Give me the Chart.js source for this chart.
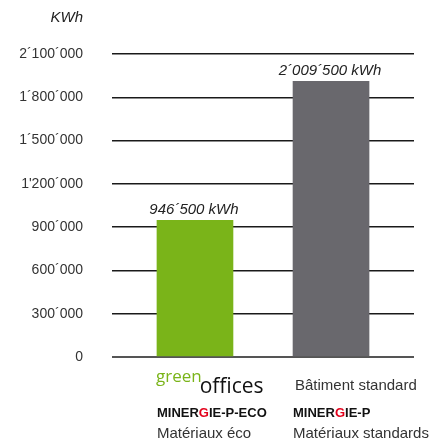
<!DOCTYPE html>
<html lang="fr">
<head>
    <meta charset="UTF-8">
    <title>Consommation KWh</title>
    <script src="https://cdn.jsdelivr.net/npm/chart.js"></script>
    <style>
        body { margin: 0; background: #fff; }
        canvas { display: block; }
    </style>
</head>
<body>
    <canvas id="energyChart" width="435" height="441"></canvas>

    <script>
        // data
        const categories = ['greenoffices', 'Bâtiment standard'];
        const standards = ['MINERGIE-P-ECO', 'MINERGIE-P'];
        const materials = ['Matériaux éco', 'Matériaux standards'];
        const energyKWh = [946500, 1910000];
        const valueLabels = ['946´500 kWh', '2´009´500 kWh'];
        const tickLabels = ['0', '300´000', '600´000', '900´000', '1\'200´000', '1´500´000', '1´800´000', '2´100´000'];
        const barColors = ['#7ab419', '#69686d'];

        const FONT = "'Liberation Sans', Arial, sans-serif";

        // value labels on top of the bars
        const valuePlugin = {
            id: 'valueLabels',
            afterDatasetsDraw(chart) {
                const ctx = chart.ctx;
                const meta = chart.getDatasetMeta(0);
                ctx.save();
                ctx.font = 'italic 15px ' + FONT;
                ctx.fillStyle = '#222';
                ctx.textAlign = 'center';
                ctx.textBaseline = 'alphabetic';
                meta.data.forEach((bar, i) => {
                    ctx.fillText(valueLabels[i], bar.x - 1, bar.y - 6);
                });
                ctx.restore();
            }
        };

        // category labels under the bars (logo, label standard, materials)
        const categoryPlugin = {
            id: 'categoryLabels',
            afterDraw(chart) {
                const ctx = chart.ctx;
                const meta = chart.getDatasetMeta(0);
                ctx.save();
                ctx.textBaseline = 'alphabetic';
                ctx.textAlign = 'left';
                meta.data.forEach((bar, i) => {
                    const x0 = bar.x - bar.width / 2;
                    const name = categories[i];
                    if (name.startsWith('green')) {
                        ctx.font = "17px 'Open Sans', sans-serif";
                        ctx.fillStyle = '#7ab419';
                        ctx.fillText('green', x0 - 1, 382);
                        const w = ctx.measureText('green').width;
                        ctx.font = "21px 'Open Sans', sans-serif";
                        ctx.fillStyle = '#111';
                        ctx.fillText(name.slice(5), x0 - 3 + w, 393);
                    } else {
                        ctx.font = '15px ' + FONT;
                        ctx.fillStyle = '#333';
                        ctx.fillText(name, x0 + 2, 390);
                    }

                    // MINERGIE with red G
                    const s = standards[i];
                    const g = s.indexOf('G');
                    ctx.font = 'bold 13px ' + FONT;
                    let x = x0;
                    const parts = [[s.slice(0, g), '#111'], ['G', '#e3001b'], [s.slice(g + 1), '#111']];
                    parts.forEach(([t, c]) => {
                        ctx.fillStyle = c;
                        ctx.fillText(t, x, 417);
                        x += ctx.measureText(t).width;
                    });

                    ctx.font = '15px ' + FONT;
                    ctx.fillStyle = '#333';
                    ctx.fillText(materials[i], x0, 438);
                });
                ctx.restore();
            }
        };

        // axis unit
        const unitPlugin = {
            id: 'unitLabel',
            afterDraw(chart) {
                const ctx = chart.ctx;
                ctx.save();
                ctx.font = 'italic 15px ' + FONT;
                ctx.fillStyle = '#222';
                ctx.textAlign = 'right';
                ctx.textBaseline = 'middle';
                ctx.fillText('KWh', 83, 18);
                ctx.restore();
            }
        };

        new Chart(document.getElementById('energyChart'), {
            type: 'bar',
            data: {
                datasets: [{
                    data: energyKWh.map((v, i) => ({ x: i, y: v })),
                    backgroundColor: barColors,
                    borderWidth: 0,
                    barThickness: 76
                }]
            },
            options: {
                responsive: false,
                animation: false,
                layout: { padding: { top: 54, right: 21, bottom: 84, left: 0 } },
                plugins: {
                    legend: { display: false },
                    tooltip: { enabled: false }
                },
                scales: {
                    x: {
                        type: 'linear',
                        min: -0.61,
                        max: 1.61,
                        offset: false,
                        bounds: 'data',
                        display: false
                    },
                    y: {
                        min: 0,
                        max: 2100000,
                        afterFit: scale => { scale.width = 112; },
                        border: { display: false },
                        grid: {
                            drawTicks: false,
                            color: ctx => ctx.tick && ctx.tick.value === 0 ? '#555' : '#1a1a1a',
                            lineWidth: ctx => ctx.tick && ctx.tick.value === 0 ? 2 : 1.5
                        },
                        ticks: {
                            stepSize: 300000,
                            padding: 29,
                            color: '#333',
                            font: { family: FONT, size: 14 },
                            callback: (v, i) => tickLabels[i]
                        }
                    }
                }
            },
            plugins: [valuePlugin, categoryPlugin, unitPlugin]
        });
    </script>
</body>
</html>
